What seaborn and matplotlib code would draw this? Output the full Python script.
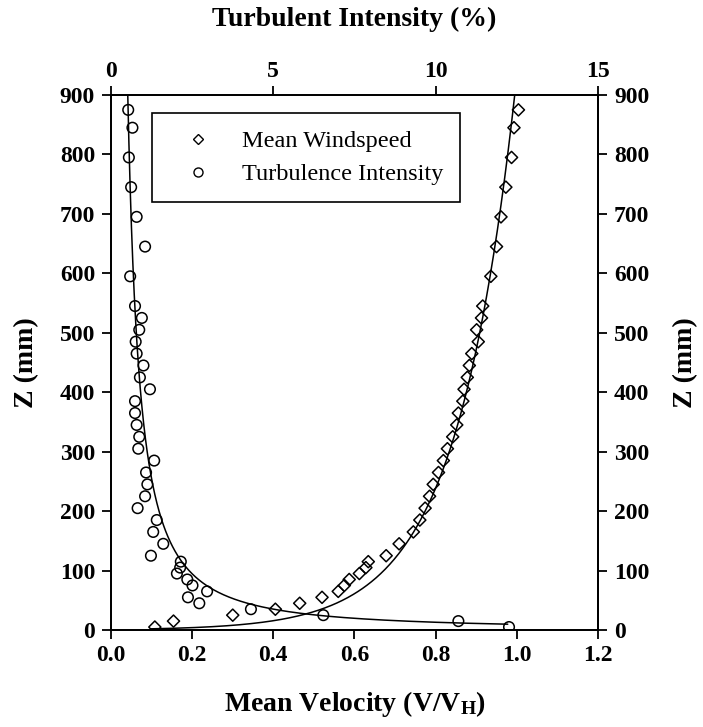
import numpy as np
import pandas as pd
import matplotlib
matplotlib.use("Agg")
import matplotlib.pyplot as plt
import seaborn as sns
from matplotlib.lines import Line2D
from matplotlib.font_manager import FontProperties

# Measurement heights above the floor (mm)
height_mm = [5, 15, 25, 35, 45, 55, 65, 75, 85, 95, 105, 115, 125, 145, 165,
             185, 205, 225, 245, 265, 285, 305, 325, 345, 365, 385, 405, 425,
             445, 465, 485, 505, 525, 545, 595, 645, 695, 745, 795, 845, 875]

# Mean velocity normalised by the velocity at boundary-layer height (V/V_H)
mean_velocity = [0.108, 0.154, 0.300, 0.405, 0.465, 0.520, 0.560, 0.575, 0.587,
                 0.612, 0.628, 0.634, 0.678, 0.710, 0.745, 0.761, 0.774, 0.785,
                 0.794, 0.807, 0.819, 0.829, 0.842, 0.852, 0.856, 0.867, 0.870,
                 0.878, 0.883, 0.889, 0.905, 0.901, 0.913, 0.916, 0.936, 0.950,
                 0.961, 0.973, 0.987, 0.993, 1.004]

# Turbulence intensity (%)
turb_intensity = [12.26, 10.70, 6.54, 4.31, 2.72, 2.37, 2.96, 2.51, 2.35, 2.03,
                  2.13, 2.15, 1.23, 1.61, 1.30, 1.41, 0.82, 1.05, 1.12, 1.08,
                  1.33, 0.84, 0.87, 0.79, 0.74, 0.74, 1.20, 0.89, 1.00, 0.79,
                  0.76, 0.87, 0.95, 0.74, 0.59, 1.05, 0.79, 0.62, 0.55, 0.66,
                  0.53]

# Fitted profiles: log law for velocity, power law for turbulence intensity
LOG_SLOPE = 0.1468      # V/V_H per unit ln(z)
ROUGHNESS_MM = 1.026    # z0 (mm)
TI_REF = 0.525          # % at reference height
Z_REF = 879.0           # mm
TI_EXPONENT = 0.70

vel_x_ticks = [0.0, 0.2, 0.4, 0.6, 0.8, 1.0, 1.2]
ti_x_ticks = [0, 5, 10, 15]
z_ticks = list(range(0, 901, 100))

df = pd.DataFrame({"z": height_mm, "v": mean_velocity, "ti": turb_intensity})

z_v = np.geomspace(2.0, 900.0, 400)
fit_v = pd.DataFrame({"z": z_v, "v": LOG_SLOPE * np.log(z_v / ROUGHNESS_MM)})
z_t = np.geomspace(9.8, 900.0, 400)
fit_t = pd.DataFrame({"z": z_t, "ti": TI_REF * (Z_REF / z_t) ** TI_EXPONENT})

sns.set_theme(style="white")
plt.rcParams["font.family"] = ["Liberation Serif", "DejaVu Serif"]
plt.rcParams["text.color"] = "black"
plt.rcParams["axes.labelcolor"] = "black"
plt.rcParams["xtick.color"] = "black"
plt.rcParams["ytick.color"] = "black"
plt.rcParams["mathtext.fontset"] = "custom"
plt.rcParams["mathtext.rm"] = "Liberation Serif:bold"
plt.rcParams["mathtext.bf"] = "Liberation Serif:bold"
plt.rcParams["mathtext.it"] = "Liberation Serif:bold"

fig = plt.figure(figsize=(7.03, 7.27), dpi=100)
ax = fig.add_axes([0.1579, 0.1334, 0.6927, 0.7359])
ax_top = ax.twiny()

# mean windspeed on the velocity axis
sns.lineplot(data=fit_v, x="v", y="z", sort=False, estimator=None,
             color="black", linewidth=1.1, ax=ax)
sns.scatterplot(data=df, x="v", y="z", marker="D", s=38, facecolors="none",
                edgecolor="black", linewidth=1.1, ax=ax, zorder=3)

# turbulence intensity on the top axis
sns.lineplot(data=fit_t, x="ti", y="z", sort=False, estimator=None,
             color="black", linewidth=1.1, ax=ax_top)
sns.scatterplot(data=df, x="ti", y="z", marker="o", s=58, facecolors="none",
                edgecolor="black", linewidth=1.1, ax=ax_top, zorder=3)

ax.set_xlim(0, 1.2)
ax.set_ylim(0, 900)
ax_top.set_xlim(0, 15)
ax_top.set_ylim(0, 900)
ax.set_xticks(vel_x_ticks)
ax.set_xticklabels([f"{t:.1f}" for t in vel_x_ticks])
ax_top.set_xticks(ti_x_ticks)
ax.set_yticks(z_ticks)

tick_font = FontProperties(family="Liberation Serif", weight="bold", size=17)
label_font = {"family": "Liberation Serif", "weight": "bold", "size": 20}

for a in (ax, ax_top):
    for lab in a.get_xticklabels() + a.get_yticklabels():
        lab.set_fontproperties(tick_font)
    for sp in a.spines.values():
        sp.set_linewidth(1.3)
        sp.set_color("black")

ax.tick_params(axis="x", direction="out", length=6.5, width=1.3, pad=4,
               bottom=True, colors="black")
ax.tick_params(axis="y", direction="out", length=6.5, width=1.3, pad=5,
               left=True, colors="black")
ax_top.tick_params(axis="x", direction="out", length=6.5, width=1.3, pad=3,
                   top=True, colors="black")

ax_r = ax.secondary_yaxis("right")
ax_r.set_yticks(z_ticks)
ax_r.tick_params(axis="y", direction="out", length=6.5, width=1.3, pad=5,
                 colors="black")
for lab in ax_r.get_yticklabels():
    lab.set_fontproperties(tick_font)
ax_r.spines["right"].set_linewidth(1.3)

ax.set_xlabel(r"Mean Velocity (V/V$_{\mathbf{H}}$)", fontdict=label_font, labelpad=17)
ax.set_ylabel("Z (mm)", fontdict=label_font, labelpad=15)
ax_r.set_ylabel("Z (mm)", fontdict=label_font, labelpad=17, rotation=90)
ax_top.set_xlabel("Turbulent Intensity (%)", fontdict=label_font, labelpad=25)
ax_top.set_ylabel("")

handles = [
    Line2D([], [], marker="D", linestyle="", markersize=5, markerfacecolor="none",
           markeredgecolor="black", markeredgewidth=1.0),
    Line2D([], [], marker="o", linestyle="", markersize=6.5, markerfacecolor="none",
           markeredgecolor="black", markeredgewidth=1.0),
]
leg = ax_top.legend(handles, ["Mean Windspeed", "Turbulence Intensity"],
                    loc="upper left", bbox_to_anchor=(0.084, 0.966),
                    borderaxespad=0, frameon=True, fancybox=False,
                    framealpha=1, edgecolor="black",
                    prop={"family": "Liberation Serif", "size": 17.5},
                    borderpad=0.7, handlelength=2.4, handletextpad=0.6,
                    labelspacing=0.45)
leg.get_frame().set_linewidth(1.2)

fig.savefig("out.png", dpi=100)
